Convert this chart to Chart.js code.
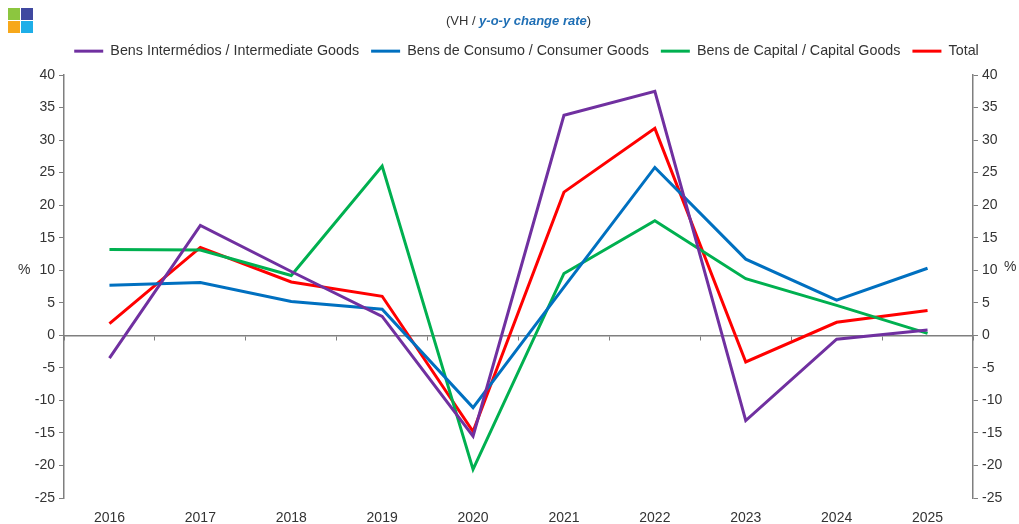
<!DOCTYPE html>
<html>
<head>
<meta charset="utf-8">
<script src="https://cdn.jsdelivr.net/npm/chart.js@4"></script>
<style>
  html, body { margin: 0; padding: 0; background: #fff; }
  #wrap { position: relative; width: 1019px; height: 524px; font-family: "Liberation Sans", Arial, sans-serif; }
  #c { position: absolute; left: 0; top: 0; }
  .logo { position: absolute; width: 12px; height: 12px; }
  #sub { position: absolute; left: 0; width: 1037px; top: 13px; text-align: center; font-size: 13px; color: #333; }
  #sub b { color: #1f6fb5; font-style: italic; }
  .pct { position: absolute; font-size: 14px; color: #333; }
</style>
</head>
<body>
<div id="wrap">
  <canvas id="c" width="1019" height="524"></canvas>
  <div class="logo" style="left:8px;top:8px;background:#8cc63f"></div>
  <div class="logo" style="left:21px;top:8px;background:#3f48a0"></div>
  <div class="logo" style="left:8px;top:21px;background:#f7a81b"></div>
  <div class="logo" style="left:21px;top:21px;background:#1eaee8"></div>
  <div id="sub">(VH / <b>y-o-y change rate</b>)</div>
  <div class="pct" style="left:18px;top:261px">%</div>
  <div class="pct" style="left:1004px;top:258px">%</div>
</div>
<script>
const years = ['2016','2017','2018','2019','2020','2021','2022','2023','2024','2025'];
const intermediate = [-3.5, 16.9, 9.8, 2.9, -15.5, 33.8, 37.5, -13.1, -0.6, 0.8];
const consumer     = [7.7, 8.1, 5.2, 4.0, -11.1, 7.4, 25.8, 11.7, 5.4, 10.3];
const capital      = [13.2, 13.1, 9.2, 26.0, -20.6, 9.5, 17.6, 8.7, 4.6, 0.3];
const total        = [1.8, 13.5, 8.2, 6.0, -14.8, 22.0, 31.8, -4.1, 2.0, 3.8];
const seriesNames = ['Bens Intermédios / Intermediate Goods', 'Bens de Consumo / Consumer Goods', 'Bens de Capital / Capital Goods', 'Total'];
const yTicksMin = -25, yTicksMax = 40, yStep = 5;

const colors = ['#7030a0', '#0070c0', '#00b050', '#ff0000'];
const seriesData = [intermediate, consumer, capital, total];

const axisColor = '#7f7f7f';
const txt = '#333333';
Chart.defaults.font.family = '"Liberation Sans", Arial, sans-serif';

new Chart(document.getElementById('c'), {
  type: 'line',
  data: {
    labels: years,
    datasets: seriesData.map((d, i) => ({
      label: seriesNames[i],
      data: d,
      borderColor: colors[i],
      backgroundColor: colors[i],
      borderWidth: 3,
      pointRadius: 0,
      tension: 0,
      yAxisID: 'y',
      xAxisID: 'x'
    }))
  },
  options: {
    responsive: false,
    animation: false,
    layout: { padding: { top: 32, left: 0, right: 0, bottom: 0 } },
    plugins: {
      tooltip: { enabled: false },
      legend: {
        position: 'top',
        labels: {
          usePointStyle: true,
          pointStyle: 'line',
          pointStyleWidth: 29,
          boxHeight: 3,
          padding: 12,
          color: txt,
          font: { size: 14.3 }
        }
      }
    },
    scales: {
      x: {
        type: 'category',
        offset: true,
        grid: { display: false, offset: true },
        border: { display: false },
        ticks: { color: txt, font: { size: 14 }, maxRotation: 0, padding: 4 },
        afterFit: s => { s.height = 26; }
      },
      x0: {
        type: 'category',
        labels: years,
        offset: true,
        position: { y: 0 },
        grid: { display: true, offset: true, drawOnChartArea: false, tickLength: 4, color: axisColor, lineWidth: 1 },
        border: { display: true, color: axisColor, width: 1.5 },
        ticks: { display: false }
      },
      y: {
        position: 'left',
        min: yTicksMin, max: yTicksMax,
        grid: { display: true, drawOnChartArea: false, tickLength: 5, color: axisColor },
        border: { display: true, color: axisColor, width: 1.5 },
        ticks: { stepSize: yStep, color: txt, font: { size: 14 }, padding: 4 },
        afterFit: s => { s.width = 64; }
      },
      y2: {
        position: 'right',
        min: yTicksMin, max: yTicksMax,
        grid: { display: true, drawOnChartArea: false, tickLength: 5, color: axisColor },
        border: { display: true, color: axisColor, width: 1.5 },
        ticks: { stepSize: yStep, color: txt, font: { size: 14 }, padding: 4 },
        afterFit: s => { s.width = 46; }
      }
    }
  },
  plugins: [{
    id: 'legendPlace',
    afterInit(chart) {
      const lg = chart.legend;
      const orig = lg.fit;
      lg.fit = function() { orig.apply(this, arguments); this.height = 43; };
    },
    afterLayout(chart) {
      chart.legend.left = 34;
    }
  }]
});
</script>
</body>
</html>
